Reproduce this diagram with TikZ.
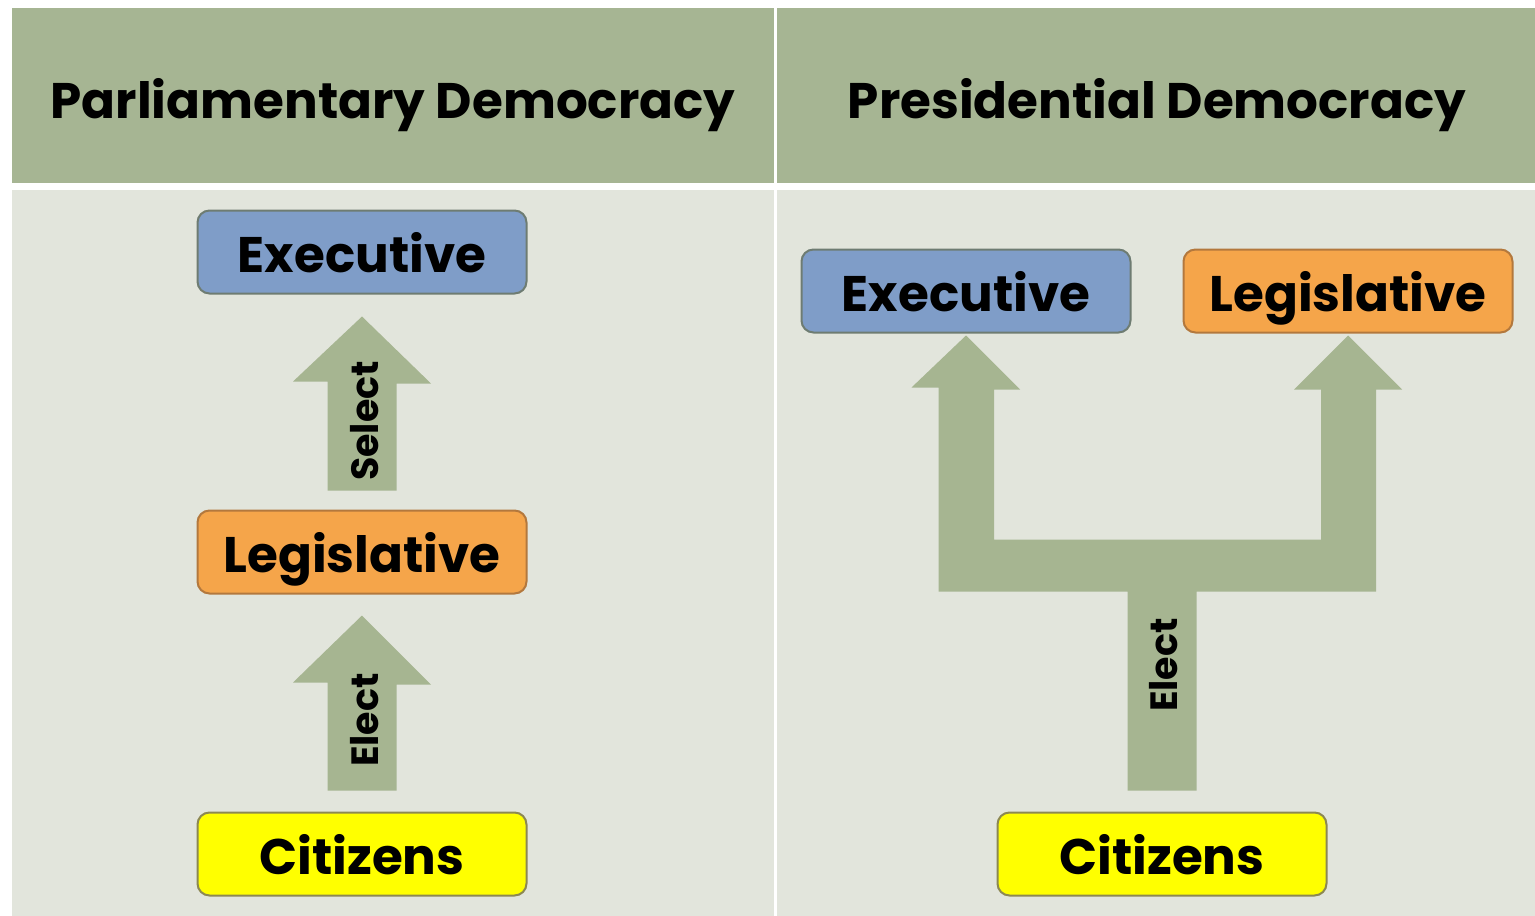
\documentclass[tikz,border=0pt]{standalone}
\usepackage{fontspec}
\setmainfont{Poppins}
\usetikzlibrary{calc}

\definecolor{headgreen}{HTML}{A6B593}
\definecolor{bodygray}{HTML}{E2E5DC}
\definecolor{arrowgreen}{HTML}{A6B591}
\definecolor{exeblue}{HTML}{7F9DC8}
\definecolor{exeline}{HTML}{6E7C72}
\definecolor{legorange}{HTML}{F5A54A}
\definecolor{legline}{HTML}{B3783D}
\definecolor{cityellow}{HTML}{FFFF00}
\definecolor{citline}{HTML}{8C8852}

\tikzset{
  govbox/.style={rounded corners=12pt, line width=2pt, minimum width=329pt,
    minimum height=83pt, inner sep=0pt, text height=40pt, text depth=0pt,
    font=\fontsize{50}{54}\selectfont\bfseries},
  exebox/.style={govbox, fill=exeblue, draw=exeline},
  legbox/.style={govbox, fill=legorange, draw=legline},
  citbox/.style={govbox, fill=cityellow, draw=citline},
  headtext/.style={inner sep=0pt, text height=40pt, text depth=0pt, font=\fontsize{50}{54}\selectfont\bfseries},
  arrowtext/.style={rotate=90, font=\fontsize{38}{42}\selectfont\bfseries},
  blockarrow/.style={fill=arrowgreen, draw=none}
}

\begin{document}
\begin{tikzpicture}[x=1pt, y=-1pt]
	\useasboundingbox (0,0) rectangle (1535,916);
	\fill[white] (0,0) rectangle (1535,916);
	% table cells
	\fill[headgreen] (12,8) rectangle (774,183);
	\fill[headgreen] (777,8) rectangle (1535,183);
	\fill[bodygray] (12,190) rectangle (774,916);
	\fill[bodygray] (777,190) rectangle (1535,916);
	\node[headtext] (parl) at (393,98) {Parliamentary Democracy};
	\node[headtext] (pres) at (1157,98) {Presidential Democracy};

	% parliamentary side
	\node[exebox] (exeL) at (362,252) {Executive};
	\node[legbox] (legL) at (362,552) {Legislative};
	\node[citbox] (citL) at (362,854) {Citizens};

	\fill[blockarrow] ($(legL.north)+(-34.5,-19)$) coordinate (selbot) -- ++(0,-109) -- ++(-34.5,0)
		-- ($(exeL.south)+(0,22)$) -- ++(69,67) -- ++(-34.5,0) |- (selbot) -- cycle;
	\fill[blockarrow] ($(citL.north)+(-34.5,-21)$) coordinate (elbot) -- ++(0,-108) -- ++(-34.5,0)
		-- ($(legL.south)+(0,21)$) -- ++(69,69) -- ++(-34.5,0) |- (elbot) -- cycle;
	\node[arrowtext] (select) at (365,421) {Select};
	\node[arrowtext] (electL) at (365,720) {Elect};

	% presidential side
	\node[exebox] (exeR) at (966,291) {Executive};
	\node[legbox] (legR) at (1348,291) {Legislative};
	\node[citbox] (citR) at (1162,854) {Citizens};

	\fill[blockarrow] ($(citR.north)+(-34.5,-21)$) coordinate (stembot) -- ++(0,-199) coordinate (barbot)
		-- ++(-189,0) -- ++(0,-204) -- ++(-27,0) -- ($(exeR.south)+(0,2)$) -- ++(54,54) -- ++(-26,0)
		-- ++(0,150) -- ++(327,0) -- ++(0,-150) -- ++(-27,0) -- ($(legR.south)+(0,2)$)
		-- ++(54,54) -- ++(-26,0) |- ($(barbot)+(69,0)$) |- (stembot) -- cycle;
	\node[arrowtext] (electR) at (1164,665) {Elect};
\end{tikzpicture}
\end{document}
